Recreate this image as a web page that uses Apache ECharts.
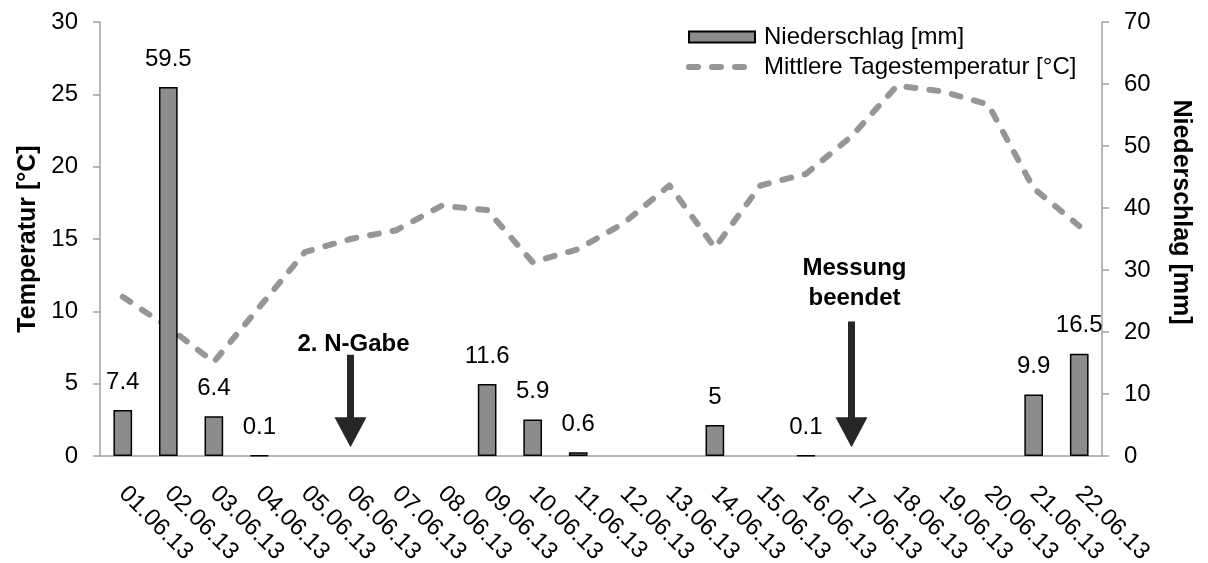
<!DOCTYPE html>
<html>
<head>
<meta charset="utf-8">
<script src="https://cdn.jsdelivr.net/npm/echarts@6/dist/echarts.min.js"></script>
<style>
html,body{margin:0;padding:0;background:#fff;}
#chart{width:1208px;height:563px;}
</style>
</head>
<body>
<div id="chart"></div>
<script>
const categories = ['01.06.13','02.06.13','03.06.13','04.06.13','05.06.13','06.06.13','07.06.13','08.06.13','09.06.13','10.06.13','11.06.13','12.06.13','13.06.13','14.06.13','15.06.13','16.06.13','17.06.13','18.06.13','19.06.13','20.06.13','21.06.13','22.06.13'];
const precipitation = [7.4, 59.5, 6.4, 0.1, 0, 0, 0, 0, 11.6, 5.9, 0.6, 0, 0, 5, 0, 0.1, 0, 0, 0, 0, 9.9, 16.5];
const temperature = [11.0, 8.9, 6.5, 10.3, 14.1, 15.0, 15.6, 17.3, 17.0, 13.4, 14.3, 16.1, 18.7, 14.4, 18.7, 19.5, 22.1, 25.6, 25.2, 24.3, 18.5, 15.9];
const tempTicks = {min: 0, max: 30, interval: 5};
const rainTicks = {min: 0, max: 70, interval: 10};
const seriesNames = ['Niederschlag [mm]', 'Mittlere Tagestemperatur [°C]'];
const axisNames = ['Temperatur [°C]', 'Niederschlag [mm]'];
// annotations (positions in temperature-axis units)
const annotationCats = ['06.06.13', '17.06.13'];
const annotationTexts = ['2. N-Gabe', 'Messung\nbeendet'];
const arrowTail = [7.0, 9.3];
const arrowTip = [0.6, 0.6];
const textCenter = [7.75, 11.95];

const FONT = "'Liberation Sans', Arial, sans-serif";
const chart = echarts.init(document.getElementById('chart'), null, {renderer: 'canvas'});
const dash = {color: '#969696', width: 6, type: [9, 14], cap: 'round', join: 'round'};

const option = {
  animation: false,
  backgroundColor: '#ffffff',
  textStyle: {fontFamily: FONT},
  grid: {left: 100, right: 106, top: 22, bottom: 107, containLabel: false, outerBoundsMode: 'none'},
  legend: {
    orient: 'vertical',
    left: 686, top: 25,
    padding: 0,
    itemWidth: 66, itemHeight: 11, itemGap: 6,
    textStyle: {fontFamily: FONT, fontSize: 24, color: '#000', lineHeight: 24, padding: [0,0,0,4]},
    data: [
      {name: seriesNames[0], icon: 'rect'},
      {name: seriesNames[1], itemStyle: {opacity: 0}, lineStyle: dash}
    ]
  },
  xAxis: {
    type: 'category',
    data: categories,
    boundaryGap: true,
    axisLine: {lineStyle: {color: '#a0a0a0', width: 1.5}},
    axisTick: {show: false},
    axisLabel: {rotate: -45, margin: 34, fontFamily: FONT, fontSize: 24, color: '#000', interval: 0},
    splitLine: {show: false}
  },
  yAxis: [
    {
      type: 'value', position: 'left',
      min: tempTicks.min, max: tempTicks.max, interval: tempTicks.interval,
      name: axisNames[0], nameLocation: 'middle', nameGap: 58,
      nameTextStyle: {fontFamily: FONT, fontSize: 25, fontWeight: 'bold', color: '#000'},
      axisLine: {show: true, lineStyle: {color: '#a0a0a0', width: 1.5}},
      axisTick: {show: true, length: 7, lineStyle: {color: '#a0a0a0', width: 1.5}},
      axisLabel: {margin: 22, fontFamily: FONT, fontSize: 24, color: '#000'},
      splitLine: {show: false}
    },
    {
      type: 'value', position: 'right',
      min: rainTicks.min, max: rainTicks.max, interval: rainTicks.interval,
      name: axisNames[1], nameLocation: 'middle', nameGap: 66, nameRotate: -90,
      nameTextStyle: {fontFamily: FONT, fontSize: 25, fontWeight: 'bold', color: '#000', padding: [0, 54, 0, 0]},
      axisLine: {show: true, lineStyle: {color: '#a0a0a0', width: 1.5}},
      axisTick: {show: true, length: 7, lineStyle: {color: '#a0a0a0', width: 1.5}},
      axisLabel: {margin: 22, fontFamily: FONT, fontSize: 24, color: '#000'},
      splitLine: {show: false}
    }
  ],
  series: [
    {
      name: seriesNames[1],
      type: 'line',
      yAxisIndex: 0,
      data: temperature,
      showSymbol: false,
      symbol: 'none',
      z: 2,
      lineStyle: dash,
      itemStyle: {color: '#969696'}
    },
    {
      name: seriesNames[0],
      type: 'bar',
      yAxisIndex: 1,
      data: precipitation.map(v => (v === 0 ? null : v)),
      barWidth: '41%',
      z: 3,
      itemStyle: {color: '#8c8c8c', borderColor: '#000', borderWidth: 1.5},
      label: {
        show: true, position: 'top', distance: 16,
        fontFamily: FONT, fontSize: 24, color: '#000',
        formatter: p => (p.value > 0 ? String(p.value) : '')
      }
    },
    {
      name: 'annotations',
      type: 'custom',
      yAxisIndex: 0,
      z: 5,
      clip: false,
      silent: true,
      data: annotationCats.map((c, i) => [categories.indexOf(c), arrowTail[i], arrowTip[i], textCenter[i]]),
      encode: {x: 0, y: 1},
      renderItem: function (params, api) {
        const i = params.dataIndex;
        const tail = api.coord([api.value(0), api.value(1)]);
        const tip = api.coord([api.value(0), api.value(2)]);
        const txt = api.coord([api.value(0), api.value(3)]);
        const headH = 30, headW = 32, shaftW = 7;
        return {
          type: 'group',
          children: [
            {type: 'rect', shape: {x: tip[0] - shaftW / 2, y: tail[1], width: shaftW, height: tip[1] - headH - tail[1] + 1}, style: {fill: '#262626'}},
            {type: 'polygon', shape: {points: [[tip[0] - headW / 2, tip[1] - headH], [tip[0] + headW / 2, tip[1] - headH], [tip[0], tip[1]]]}, style: {fill: '#262626'}},
            {type: 'text', x: txt[0] + 3, y: txt[1], style: {text: annotationTexts[i], font: 'bold 24px ' + FONT, fill: '#000', align: 'center', verticalAlign: 'middle', lineHeight: 30}}
          ]
        };
      }
    }
  ]
};
chart.setOption(option);
</script>
</body>
</html>
